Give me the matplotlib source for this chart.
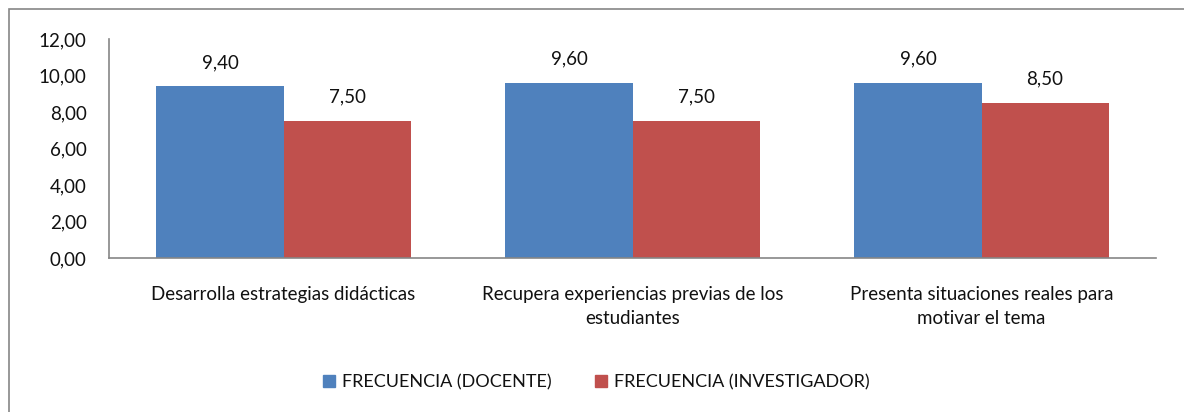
import numpy as np
import matplotlib.pyplot as plt
from matplotlib.patches import Rectangle
from matplotlib.lines import Line2D

plt.rcParams['font.family'] = ['Lato', 'DejaVu Sans']

# Data
categories = ['Desarrolla estrategias didácticas',
              'Recupera experiencias previas de los\nestudiantes',
              'Presenta situaciones reales para\nmotivar el tema']
docente = [9.40, 9.60, 9.60]
investigador = [7.50, 7.50, 8.50]
series_names = ['FRECUENCIA (DOCENTE)', 'FRECUENCIA (INVESTIGADOR)']
yticks = [0, 2, 4, 6, 8, 10, 12]

blue = '#4F81BD'
red = '#C0504D'
gray = '#868686'
txt = '#111111'
fs = 13.5

W, H = 1184, 412
fig = plt.figure(figsize=(W / 100, H / 100), dpi=100)

# outer chart frame (cut off on the right and bottom)
fig.patches.append(Rectangle((9 / W, -0.5), 2, 1 - 9 / H + 0.5,
                             transform=fig.transFigure, fill=False,
                             edgecolor=gray, linewidth=1.2))

ax = fig.add_axes([109 / W, 1 - 258 / H, (1156 - 109) / W, (258 - 39) / H])

x = np.arange(len(categories))
bw = 0.364
b1 = ax.bar(x - bw / 2, docente, bw, color=blue)
b2 = ax.bar(x + bw / 2, investigador, bw, color=red)

for bars, vals in [(b1, docente), (b2, investigador)]:
    for b, v in zip(bars, vals):
        ax.annotate(f'{v:.2f}'.replace('.', ','),
                    (b.get_x() + b.get_width() / 2, v),
                    xytext=(0, 11), textcoords='offset points',
                    ha='center', va='bottom', fontsize=fs, color=txt)

ax.set_xlim(-0.5, len(categories) - 0.5)
ax.set_ylim(0, 12)
ax.set_yticks(yticks)
ax.set_yticklabels([f'{t:.2f}'.replace('.', ',') for t in yticks])
ax.set_xticks(x)
ax.set_xticklabels(categories, linespacing=1.55)
ax.tick_params(axis='both', length=0, labelsize=fs, colors=txt)
ax.tick_params(axis='y', pad=16)
ax.tick_params(axis='x', pad=20)

for s in ['top', 'right']:
    ax.spines[s].set_visible(False)
for s in ['left', 'bottom']:
    ax.spines[s].set_color(gray)
    ax.spines[s].set_linewidth(1.2)

handles = [Line2D([], [], marker='s', linestyle='none', markersize=8.5,
                  markerfacecolor=c, markeredgecolor=c) for c in (blue, red)]
fig.legend(handles, series_names, loc='center', ncol=2,
           bbox_to_anchor=(596 / W, 1 - 382 / H), frameon=False,
           fontsize=13, handlelength=0.7, handletextpad=0.35,
           columnspacing=2.4, labelcolor=txt)

fig.savefig('out.png', dpi=100)
